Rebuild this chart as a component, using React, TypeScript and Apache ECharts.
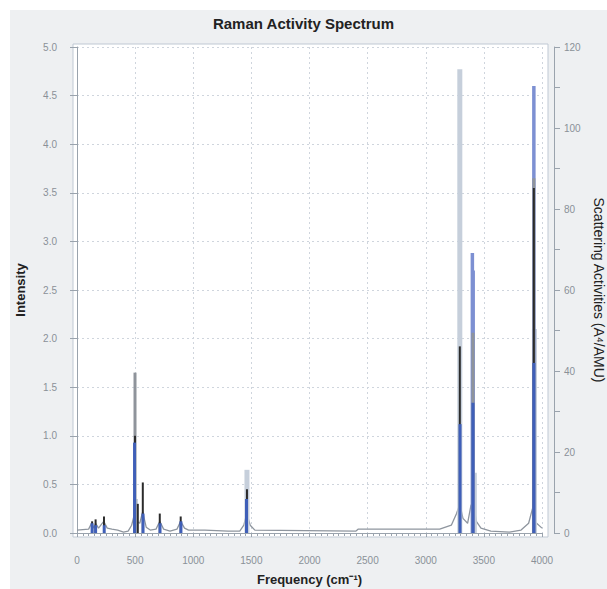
import React, { useEffect, useRef } from "react";
import * as echarts from "echarts";

const titleText = "Raman Activity Spectrum";
const xName = "Frequency (cm⁻¹)";
const yLeftName = "Intensity";
const yRightName = "Scattering Activities (A⁴/AMU)";

// broadened spectrum (Intensity units)
const curve: [number, number][] = [
  [0, 0.03], [100, 0.04], [125, 0.1], [145, 0.05], [160, 0.1], [185, 0.05], [230, 0.12], [260, 0.05],
  [300, 0.04], [350, 0.03], [400, 0.01], [440, 0.02], [470, 0.08], [495, 0.2], [515, 0.12],
  [540, 0.1], [565, 0.22], [595, 0.06], [630, 0.03], [680, 0.04], [712, 0.12], [745, 0.04],
  [800, 0.02], [860, 0.04], [892, 0.12], [925, 0.05], [960, 0.03], [1100, 0.03], [1300, 0.02],
  [1400, 0.02], [1435, 0.08], [1460, 0.2], [1490, 0.08], [1530, 0.03], [2400, 0.02], [2420, 0.04],
  [3120, 0.04], [3220, 0.08], [3265, 0.2], [3293, 0.3], [3320, 0.15], [3360, 0.1], [3388, 0.28],
  [3408, 0.33], [3435, 0.12], [3475, 0.05], [3560, 0.02], [3720, 0.01], [3820, 0.03],
  [3885, 0.1], [3918, 0.25], [3935, 0.12], [4000, 0.05],
];

// stick layers, back to front (Intensity units)
const lightSticks: [number, number][] = [
  [3293, 4.77], [1462, 0.65], [3418, 0.62], [3935, 2.1], [503, 0.35],
];
const mediumBlueSticks: [number, number][] = [
  [3930, 4.6], [3401, 2.88], [3408, 2.7],
];
const graySticks: [number, number][] = [
  [499, 1.65], [3930, 3.65], [3406, 2.06],
];
const blackSticks: [number, number][] = [
  [3293, 1.92], [3930, 3.55], [499, 1.0], [566, 0.52], [523, 0.3], [1462, 0.45],
  [712, 0.2], [892, 0.17], [232, 0.17], [160, 0.14], [130, 0.12],
];
const frontBlueSticks: [number, number][] = [
  [3295, 1.12], [3406, 1.34], [3930, 1.75], [495, 0.93], [1458, 0.35], [568, 0.2],
  [714, 0.1], [894, 0.12], [130, 0.1], [160, 0.08], [234, 0.08],
];

const stick = (name: string, data: [number, number][], color: string, width: number, z: number) => ({
  type: "custom",
  name,
  data,
  z,
  encode: { x: 0, y: 1 },
  renderItem: (_p: any, api: any) => {
    const top = api.coord([api.value(0), api.value(1)]);
    const base = api.coord([api.value(0), 0]);
    return {
      type: "rect",
      shape: { x: top[0] - width / 2, y: top[1], width, height: base[1] - top[1] },
      style: { fill: color },
    };
  },
});

export default function App() {
  const ref = useRef<HTMLDivElement>(null);
  useEffect(() => {
    if (!ref.current) return;
    const chart = echarts.init(ref.current, undefined, { renderer: "svg" });
    const labelColor = "#8a9098";
    const axisColor = "#9aa3ad";
    chart.setOption({
      animation: false,
      backgroundColor: "#ffffff",
      textStyle: { fontFamily: "Liberation Sans, Arial, sans-serif" },
      graphic: [
        { type: "rect", z: -10, silent: true, shape: { x: 10, y: 10, width: 597, height: 579 }, style: { fill: "#eef0f2" } },
        { type: "rect", z: -9, silent: true, shape: { x: 73, y: 44, width: 475, height: 493 }, style: { fill: "#ffffff", stroke: "#c0c9d4", lineWidth: 1 } },
      ],
      title: {
        text: titleText,
        left: "center",
        top: 11,
        textStyle: { fontSize: 15, fontWeight: "bold", color: "#222" },
      },
      grid: { left: 77, right: 65, top: 47, bottom: 56, containLabel: false, outerBoundsMode: "none" },
      xAxis: {
        type: "value",
        min: 0,
        max: 4000,
        interval: 500,
        offset: 12,
        name: xName,
        nameLocation: "middle",
        nameGap: 28,
        nameTextStyle: { fontSize: 13, fontWeight: "bold", color: "#222" },
        axisLine: { show: true, lineStyle: { color: axisColor } },
        axisTick: { show: true, length: 4, lineStyle: { color: axisColor } },
        minorTick: { show: true, splitNumber: 10, length: 3, lineStyle: { color: axisColor } },
        axisLabel: { color: labelColor, fontSize: 10, margin: 10, formatter: (v: number) => String(v) },
        splitLine: { show: true, lineStyle: { color: "#cfd5dd", type: [2, 3] } },
      },
      yAxis: [
        {
          type: "value",
          min: 0,
          max: 5,
          interval: 0.5,
          offset: 8,
          name: yLeftName,
          nameLocation: "middle",
          nameGap: 42,
          nameRotate: 90,
          nameTextStyle: { fontSize: 13, fontWeight: "bold", color: "#222" },
          axisLine: { show: true, lineStyle: { color: axisColor } },
          axisTick: { show: true, length: 7, lineStyle: { color: axisColor } },
          axisLabel: { color: labelColor, fontSize: 10, margin: 12, formatter: (v: number) => v.toFixed(1) },
          splitLine: { show: true, lineStyle: { color: "#cfd5dd", type: [2, 3] } },
        },
        {
          type: "value",
          position: "right",
          min: 0,
          max: 120,
          interval: 20,
          offset: 12,
          name: yRightName,
          nameLocation: "middle",
          nameGap: 36,
          nameRotate: -90,
          nameTextStyle: { fontSize: 14, color: "#222" },
          axisLine: { show: true, lineStyle: { color: axisColor } },
          axisTick: { show: true, length: 6, lineStyle: { color: axisColor } },
          minorTick: { show: true, splitNumber: 2, length: 6, lineStyle: { color: axisColor } },
          axisLabel: { color: labelColor, fontSize: 10, margin: 10 },
          splitLine: { show: false },
        },
      ],
      series: [
        {
          type: "line",
          name: "spectrum",
          data: curve,
          showSymbol: false,
          z: 2,
          lineStyle: { color: "#8e959e", width: 1.3 },
        },
        stick("light", lightSticks, "#c6cfdb", 5, 3),
        stick("mediumBlue", mediumBlueSticks, "#7d90d2", 3.5, 4),
        stick("gray", graySticks, "#8f949b", 3, 5),
        stick("black", blackSticks, "#2b2b2b", 2, 6),
        stick("frontBlue", frontBlueSticks, "#3f5fb8", 3, 7),
      ],
    });
    return () => chart.dispose();
  }, []);
  return <div ref={ref} style={{ position: "fixed", left: 0, top: 0, width: 607, height: 589 }} />;
}
